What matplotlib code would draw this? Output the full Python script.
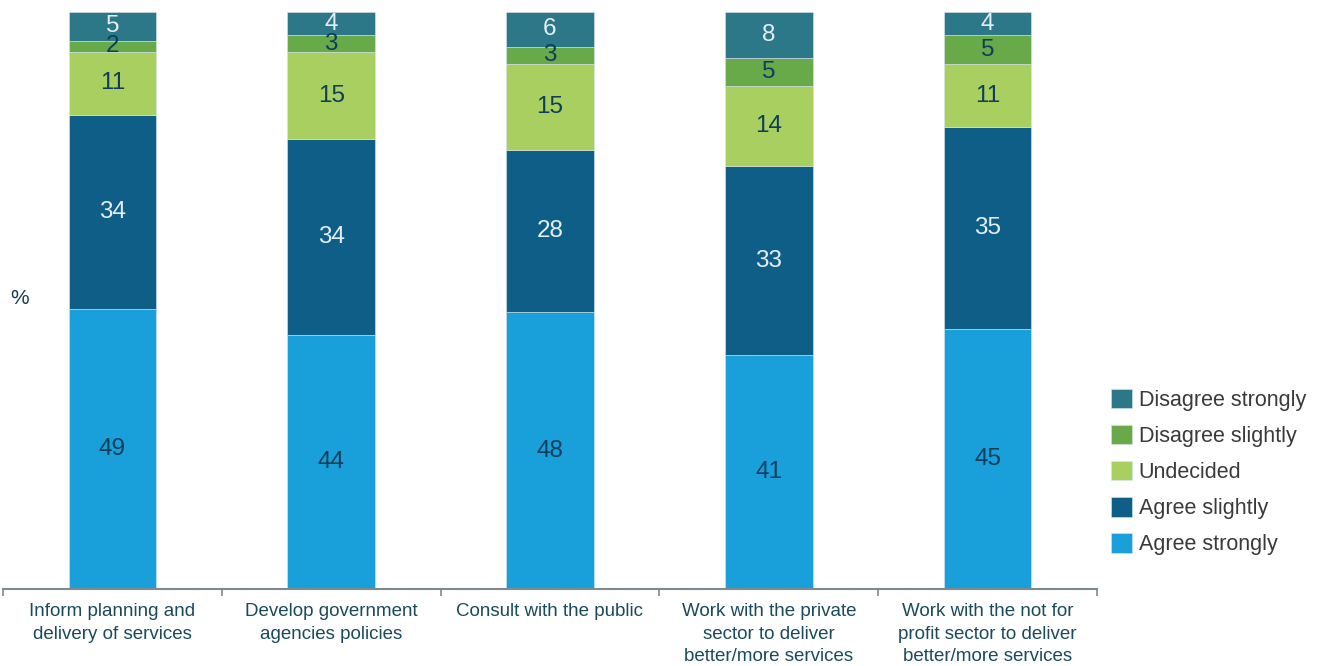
import numpy as np
import matplotlib.pyplot as plt

plt.rcParams['font.family'] = ['Liberation Sans', 'DejaVu Sans']

categories = ["Inform planning and\ndelivery of services",
              "Develop government\nagencies policies",
              "Consult with the public",
              "Work with the private\nsector to deliver\nbetter/more services",
              "Work with the not for\nprofit sector to deliver\nbetter/more services"]
series = ["Agree strongly", "Agree slightly", "Undecided",
          "Disagree slightly", "Disagree strongly"]
agree_strongly = [49, 44, 48, 41, 45]
agree_slightly = [34, 34, 28, 33, 35]
undecided = [11, 15, 15, 14, 11]
disagree_slightly = [2, 3, 3, 5, 5]
disagree_strongly = [5, 4, 6, 8, 4]

colors = ["#19A0DA", "#0E5E88", "#A8CF5F", "#68A94A", "#2C7889"]
text_colors = ["#0E3E5A", "#E4EEF2", "#0E3E5A", "#0E3E5A", "#E4EEF2"]
values = np.array([agree_strongly, agree_slightly, undecided,
                   disagree_slightly, disagree_strongly], dtype=float)
# 100% stacked: each column is scaled to its own total
shares = values / values.sum(axis=0) * 100

fig = plt.figure(figsize=(13.27, 6.66), dpi=100)
ax = fig.add_axes([3 / 1327, 77 / 666, 1094 / 1327, 577 / 666])

x = np.arange(len(categories))
bottom = np.zeros(len(categories))
handles = []
for name, vals, pct, col, tc in zip(series, values, shares, colors, text_colors):
    bars = ax.bar(x, pct, width=0.40, bottom=bottom, color=col,
                  edgecolor="#D8E6EC", linewidth=0.4, label=name)
    handles.append(bars)
    for xi, b, p, v in zip(x, bottom, pct, vals):
        ax.text(xi, b + p / 2, f"{int(v)}", ha="center", va="center",
                fontsize=17.5, color=tc)
    bottom += pct

ax.set_xlim(-0.5, len(categories) - 0.5)
ax.set_ylim(0, 100)
for s in ["top", "right", "left"]:
    ax.spines[s].set_visible(False)
ax.spines["bottom"].set_color("#7F8A90")
ax.spines["bottom"].set_linewidth(1.5)
ax.set_yticks([])

ax.set_xticks(np.arange(-0.5, len(categories), 1.0))
ax.set_xticklabels([])
ax.tick_params(axis="x", length=5, width=1.2, color="#7F8A90")
for xi, lab in zip(x, categories):
    ax.text(xi, -2.5, lab, ha="center", va="top", fontsize=13.5,
            color="#1A4A5C", linespacing=1.4, clip_on=False)

fig.text(20 / 1327, 1 - 298 / 666, "%", ha="center", va="center",
         fontsize=15, color="#1A3A50")

leg = fig.legend(handles[::-1], series[::-1], loc="upper left",
                 bbox_to_anchor=(1102 / 1327, 1 - 380 / 666), frameon=False,
                 fontsize=15.5, handlelength=1.0, handleheight=1.0,
                 handletextpad=0.3, labelspacing=0.66, borderaxespad=0)
for t in leg.get_texts():
    t.set_color("#3A3A3A")

fig.savefig("out.png", dpi=100)
